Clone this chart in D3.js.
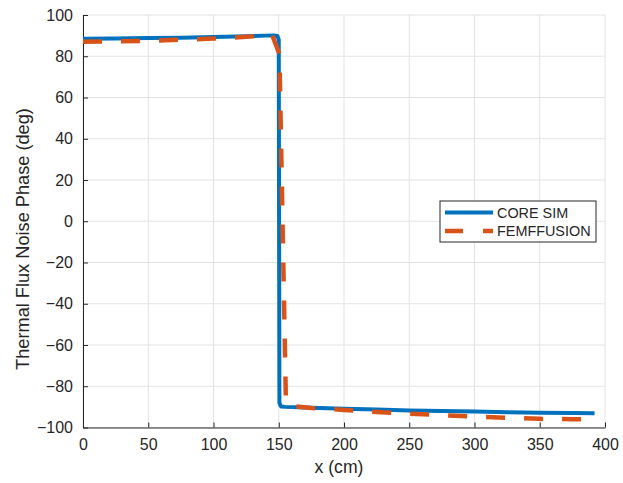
<!DOCTYPE html>
<html>
<head>
<meta charset="utf-8">
<script src="https://cdn.jsdelivr.net/npm/d3@7"></script>
<style>
  body { margin: 0; background: #fff; }
  text { font-family: "Liberation Sans", Arial, Helvetica, sans-serif; fill: #262626; }
</style>
</head>
<body>
<script>
// phase of the thermal flux noise along x, two codes compared

var coreX = [0, 25, 50, 75, 100, 125, 140, 146, 149, 150, 150.5, 151.5, 152, 155, 175, 200, 225, 250, 275, 300, 325, 350, 375, 392];
var coreY = [88.5, 88.6, 88.8, 89.0, 89.3, 89.7, 90.0, 90.1, 89.8, 88, -88, -89.6, -89.8, -90, -90.4, -90.9, -91.3, -91.7, -92.0, -92.3, -92.6, -92.8, -93.0, -93.1];

var femX = [0, 25, 50, 75, 100, 125, 140, 145, 150.5, 155.5, 158, 175, 200, 225, 250, 275, 300, 325, 350, 375, 392];
var femY = [87.0, 87.2, 87.5, 88.0, 88.6, 89.4, 90.0, 90.2, 81, -88, -89.5, -90.5, -91.5, -92.5, -93.3, -94.0, -94.7, -95.3, -95.8, -96.0, -96.0];

var xTicks = [0, 50, 100, 150, 200, 250, 300, 350, 400];
var yTicks = [-100, -80, -60, -40, -20, 0, 20, 40, 60, 80, 100];

var names = ["CORE SIM", "FEMFFUSION"];
var colors = ["#0072BD", "#D95319"];

var width = 623, height = 483;
var plotL = 83, plotR = 605, plotT = 15, plotB = 427.5;

var svg = d3.select("body").append("svg")
  .attr("width", width)
  .attr("height", height);

var x = d3.scaleLinear().domain([0, 400]).range([plotL, plotR]);
var y = d3.scaleLinear().domain([-100, 100]).range([plotB, plotT]);

// grid
svg.append("g").selectAll("line")
  .data(xTicks)
  .enter().append("line")
  .attr("x1", function (d) { return x(d); })
  .attr("x2", function (d) { return x(d); })
  .attr("y1", plotT).attr("y2", plotB)
  .style("stroke", "#e3e3e3").style("stroke-width", 1);

svg.append("g").selectAll("line")
  .data(yTicks)
  .enter().append("line")
  .attr("x1", plotL).attr("x2", plotR)
  .attr("y1", function (d) { return y(d); })
  .attr("y2", function (d) { return y(d); })
  .style("stroke", "#e3e3e3").style("stroke-width", 1);

// axes, ticks pointing inward
var xAxis = svg.append("g")
  .attr("transform", "translate(0," + plotB + ")")
  .call(d3.axisBottom(x).tickValues(xTicks).tickSizeInner(-5).tickSizeOuter(0).tickPadding(11));

var yAxis = svg.append("g")
  .attr("transform", "translate(" + plotL + ",0)")
  .call(d3.axisLeft(y).tickValues(yTicks).tickSizeInner(-5).tickSizeOuter(0).tickPadding(10));

[xAxis, yAxis].forEach(function (ax) {
  ax.select(".domain").style("stroke", "#262626").style("stroke-width", 1);
  ax.selectAll(".tick line").style("stroke", "#262626").style("stroke-width", 1);
  ax.selectAll(".tick text")
    .style("font-size", "16px")
    .style("font-family", "'Liberation Sans', Arial, sans-serif")
    .style("fill", "#262626");
});

// lines
var line = d3.line()
  .x(function (d) { return x(d[0]); })
  .y(function (d) { return y(d[1]); });

var coreData = coreX.map(function (v, i) { return [v, coreY[i]]; });
var femData = femX.map(function (v, i) { return [v, femY[i]]; });

svg.append("path")
  .datum(coreData)
  .attr("d", line)
  .style("fill", "none")
  .style("stroke", colors[0])
  .style("stroke-width", 4)
  .style("stroke-linejoin", "round");

svg.append("path")
  .datum(femData)
  .attr("d", line)
  .style("fill", "none")
  .style("stroke", colors[1])
  .style("stroke-width", 4.5)
  .style("stroke-dasharray", "19,19")
  .style("stroke-linejoin", "round");

// axis labels
svg.append("text")
  .attr("x", 339)
  .attr("y", 473)
  .attr("text-anchor", "middle")
  .style("font-size", "17.6px")
  .text("x (cm)");

svg.append("text")
  .attr("transform", "translate(29,239) rotate(-90)")
  .attr("text-anchor", "middle")
  .style("font-size", "18.2px")
  .text("Thermal Flux Noise Phase (deg)");

// legend
var lg = svg.append("g").attr("transform", "translate(440,201)");
lg.append("rect")
  .attr("width", 156).attr("height", 41)
  .style("fill", "#fff").style("stroke", "#262626").style("stroke-width", 1);

names.forEach(function (n, i) {
  var ly = 11.5 + i * 18.5;
  lg.append("line")
    .attr("x1", 5).attr("x2", 53)
    .attr("y1", ly).attr("y2", ly)
    .style("stroke", colors[i])
    .style("stroke-width", i === 0 ? 4 : 4.5)
    .style("stroke-dasharray", i === 0 ? null : "18,20");
  lg.append("text")
    .attr("x", 57).attr("y", ly + 5)
    .style("font-size", "14.4px")
    .text(n);
});
</script>
</body>
</html>
